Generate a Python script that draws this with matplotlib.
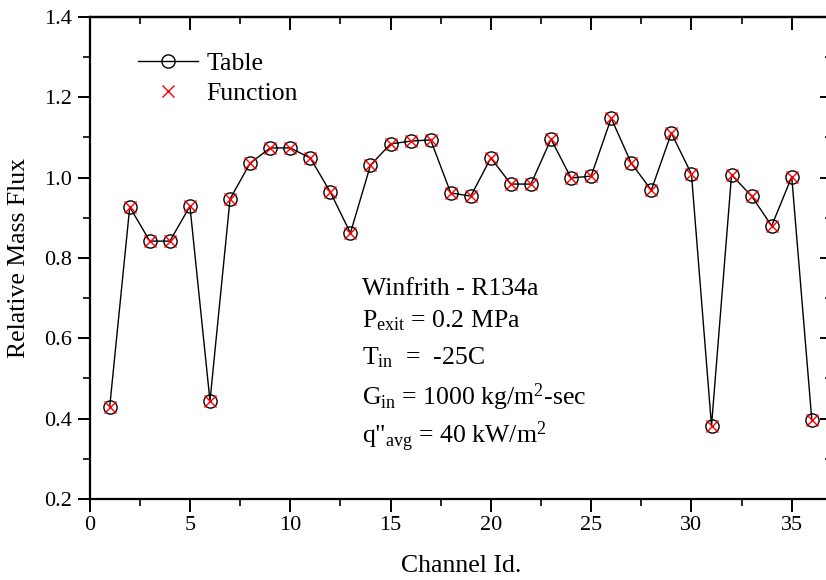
import matplotlib
matplotlib.use('Agg')
import matplotlib.pyplot as plt
from matplotlib.ticker import MultipleLocator

plt.rcParams['font.family'] = ['Liberation Serif', 'DejaVu Serif']
plt.rcParams['mathtext.fontset'] = 'custom'
plt.rcParams['mathtext.rm'] = 'Liberation Serif'
plt.rcParams['mathtext.it'] = 'Liberation Serif:italic'

# Relative mass flux per channel (table lookup vs. fitted function)
channel_id = list(range(1, 37))
flux_table = [0.429, 0.927, 0.842, 0.842, 0.929, 0.444, 0.947, 1.036, 1.074, 1.074,
              1.049, 0.964, 0.862, 1.031, 1.084, 1.091, 1.094, 0.962, 0.954, 1.049,
              0.984, 0.984, 1.096, 0.999, 1.004, 1.148, 1.036, 0.969, 1.111, 1.009,
              0.382, 1.007, 0.954, 0.880, 1.002, 0.397]
flux_function = list(flux_table)

fig = plt.figure(figsize=(8.26, 5.8), dpi=100)
ax = fig.add_axes([0.1085, 0.1397, 0.8986, 0.831])

ax.plot(channel_id, flux_table, '-o', color='black', lw=1.0, ms=9.5,
        mfc='none', mec='black', mew=1.0, label='Table')
ax.plot(channel_id, flux_function, 'x', color='red', ms=9, mew=1.0,
        ls='none', label='Function')

ax.set_xlim(0, 37)
ax.set_ylim(0.2, 1.4)
ax.xaxis.set_major_locator(MultipleLocator(5))
ax.xaxis.set_minor_locator(MultipleLocator(2.5))
ax.yaxis.set_major_locator(MultipleLocator(0.2))
ax.yaxis.set_minor_locator(MultipleLocator(0.1))
ax.yaxis.set_major_formatter(plt.FuncFormatter(lambda v, p: f'{v:.1f}'))

for s in ax.spines.values():
    s.set_linewidth(1.6)

ax.tick_params(axis='both', which='major', labelsize=16, width=1.4, length=9,
               direction='out')
ax.tick_params(axis='both', which='minor', width=1.2, length=5, direction='out')

# mirrored ticks on top and right, pointing inward, no labels
top = ax.secondary_xaxis('top')
top.xaxis.set_major_locator(MultipleLocator(5))
top.xaxis.set_minor_locator(MultipleLocator(2.5))
top.tick_params(which='major', direction='in', length=9, width=1.4, labeltop=False)
top.tick_params(which='minor', direction='in', length=5, width=1.2)
top.spines['top'].set_linewidth(1.6)

right = ax.secondary_yaxis('right')
right.yaxis.set_major_locator(MultipleLocator(0.2))
right.yaxis.set_minor_locator(MultipleLocator(0.1))
right.tick_params(which='major', direction='in', length=9, width=1.4, labelright=False)
right.tick_params(which='minor', direction='in', length=5, width=1.2)

ax.set_xlabel('Channel Id.', fontsize=18.5, labelpad=14)
ax.set_ylabel('Relative Mass Flux', fontsize=18.5, labelpad=10)

ax.legend(loc='upper left', bbox_to_anchor=(0.045, 0.96), frameon=False,
          fontsize=18.5, handlelength=2.3, handletextpad=0.35, labelspacing=0.3,
          borderaxespad=0.2)

notes = [
    'Winfrith - R134a',
    r'P$_{\mathrm{exit}}$ = 0.2 MPa',
    r'T$_{\mathrm{in}}$  =  -25C',
    r'G$_{\mathrm{in}}$ = 1000 kg/m$^{2}$-sec',
    r'q"$_{\mathrm{avg}}$ = 40 kW/m$^{2}$',
]
note_y = [0.708, 0.626, 0.534, 0.434, 0.339]
for txt, yv in zip(notes, note_y):
    ax.text(13.6, yv, txt, fontsize=18.5, va='baseline', ha='left')

fig.savefig('out.png', dpi=100)
